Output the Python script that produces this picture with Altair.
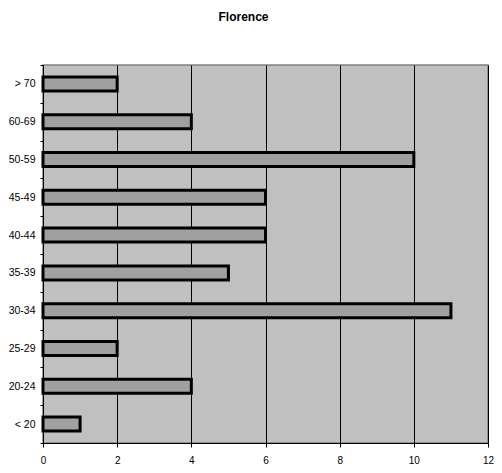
import altair as alt
import pandas as pd

categories = ["> 70", "60-69", "50-59", "45-49", "40-44", "35-39", "30-34", "25-29", "20-24", "< 20"]
values = [2, 4, 10, 6, 6, 5, 11, 2, 4, 1]
x_ticks = [0, 2, 4, 6, 8, 10, 12]

df = pd.DataFrame({"age": categories, "count": values})

bars = alt.Chart(df).mark_bar(
    size=14, fill="#A0A0A0", stroke="#000000", strokeWidth=3
).encode(
    y=alt.Y("age:N", sort=categories, title=None,
            scale=alt.Scale(paddingInner=0, paddingOuter=0),
            axis=alt.Axis(tickBand="extent", domainColor="#000000", domainWidth=1,
                          tickColor="#000000", tickSize=3, labelPadding=5,
                          labelFont="Liberation Sans", labelFontSize=10.5,
                          labelColor="#000000", grid=False)),
    x=alt.X("count:Q", title=None,
            scale=alt.Scale(domain=[0, 12], nice=False),
            axis=alt.Axis(values=x_ticks, grid=True, gridColor="#000000", gridWidth=1,
                          domainColor="#000000", tickColor="#000000", tickSize=4,
                          labelPadding=8, labelFont="Liberation Sans", labelFontSize=10,
                          labelColor="#000000", labelFlush=False)),
)

chart = bars.properties(
    width=445,
    height=378,
    background="#FFFFFF",
    title=alt.Title("Florence", font="Liberation Sans", fontSize=12, fontWeight="bold",
                    color="#000000", anchor="middle", offset=36, dx=-22),
    autosize=alt.AutoSizeParams(type="none"),
    padding={"left": 35, "top": 57, "right": 6, "bottom": 22},
).configure_view(
    fill="#C0C0C0", stroke="#808080", strokeWidth=1.5
)

chart.save("out.html", embed_options={"renderer": "svg", "actions": False})
